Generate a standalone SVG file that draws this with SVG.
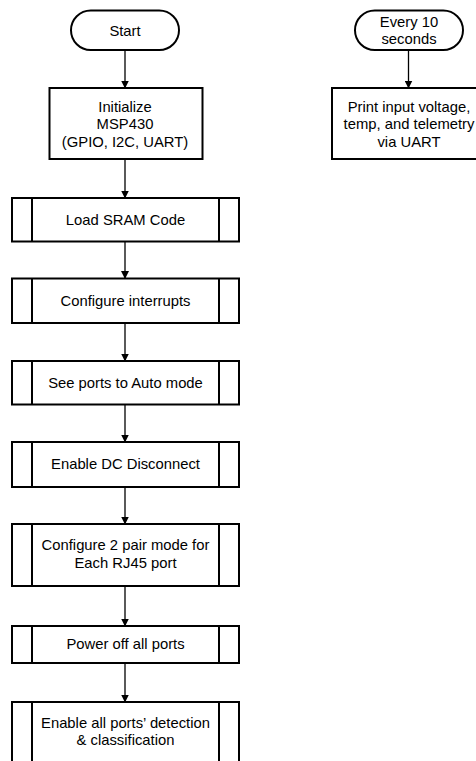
<svg xmlns="http://www.w3.org/2000/svg" width="476" height="761" viewBox="0 0 476 761">
<style>
.shape{fill:#fff;stroke:#000;stroke-width:2}
.div{stroke:#000;stroke-width:2}
.t{font-family:"Liberation Sans",Arial,sans-serif;font-size:14.8px;fill:#000;text-anchor:middle}
.conn{stroke:#000;stroke-width:1.3;fill:none;marker-end:url(#ah)}
</style>
<defs>
<marker id="ah" markerWidth="8" markerHeight="8" refX="7.5" refY="4" orient="auto" markerUnits="userSpaceOnUse">
<path d="M0,0 L8,4 L0,8 z" fill="#000"/>
</marker>
</defs>
<rect width="476" height="761" fill="#fff"/>
<g id="connectors">
<line class="conn" x1="125" y1="50" x2="125" y2="88"/>
<line class="conn" x1="125" y1="159" x2="125" y2="198"/>
<line class="conn" x1="125" y1="241.5" x2="125" y2="278.5"/>
<line class="conn" x1="125" y1="323" x2="125" y2="361"/>
<line class="conn" x1="125" y1="404" x2="125" y2="442"/>
<line class="conn" x1="125" y1="487" x2="125" y2="524"/>
<line class="conn" x1="125" y1="586" x2="125" y2="626"/>
<line class="conn" x1="125" y1="663" x2="125" y2="702"/>
<line class="conn" x1="408.5" y1="50" x2="408.5" y2="88"/>
</g>
<g id="start">
<rect class="shape" x="71" y="10.5" width="108" height="39.5" rx="19.75"/>
<text class="t" x="125" y="35.5">Start</text>
</g>
<g id="init">
<rect class="shape" x="49.5" y="88" width="153" height="71"/>
<text class="t" x="125" y="111.5">Initialize</text>
<text class="t" x="125" y="129">MSP430</text>
<text class="t" x="125" y="146.5">(GPIO, I2C, UART)</text>
</g>
<g id="load-sram">
<rect class="shape" x="12" y="198" width="227" height="43.5"/>
<line class="div" x1="32" y1="198" x2="32" y2="241.5"/>
<line class="div" x1="219" y1="198" x2="219" y2="241.5"/>
<text class="t" x="125.5" y="224.5">Load SRAM Code</text>
</g>
<g id="config-int">
<rect class="shape" x="12" y="278.5" width="227" height="44.5"/>
<line class="div" x1="32" y1="278.5" x2="32" y2="323"/>
<line class="div" x1="219" y1="278.5" x2="219" y2="323"/>
<text class="t" x="125.5" y="305.5">Configure interrupts</text>
</g>
<g id="see-ports">
<rect class="shape" x="12" y="361" width="227" height="43.5"/>
<line class="div" x1="32" y1="361" x2="32" y2="404.5"/>
<line class="div" x1="219" y1="361" x2="219" y2="404.5"/>
<text class="t" x="125.5" y="388">See ports to Auto mode</text>
</g>
<g id="enable-dc">
<rect class="shape" x="12" y="442" width="227" height="45"/>
<line class="div" x1="32" y1="442" x2="32" y2="487"/>
<line class="div" x1="219" y1="442" x2="219" y2="487"/>
<text class="t" x="125.5" y="468.5">Enable DC Disconnect</text>
</g>
<g id="two-pair">
<rect class="shape" x="12" y="524" width="227" height="62"/>
<line class="div" x1="32" y1="524" x2="32" y2="586"/>
<line class="div" x1="219" y1="524" x2="219" y2="586"/>
<text class="t" x="125.5" y="550">Configure 2 pair mode for</text>
<text class="t" x="125.5" y="567.5">Each RJ45 port</text>
</g>
<g id="power-off">
<rect class="shape" x="12" y="626" width="227" height="37"/>
<line class="div" x1="32" y1="626" x2="32" y2="663"/>
<line class="div" x1="219" y1="626" x2="219" y2="663"/>
<text class="t" x="125.5" y="648.5">Power off all ports</text>
</g>
<g id="enable-all">
<rect class="shape" x="12" y="702" width="227" height="70"/>
<line class="div" x1="32" y1="702" x2="32" y2="772"/>
<line class="div" x1="219" y1="702" x2="219" y2="772"/>
<text class="t" x="125.5" y="727.5">Enable all ports’ detection</text>
<text class="t" x="125.5" y="745">&amp; classification</text>
</g>
<g id="every10">
<rect class="shape" x="355" y="10.5" width="108" height="39.5" rx="19.75"/>
<text class="t" x="409" y="27">Every 10</text>
<text class="t" x="409" y="43.5">seconds</text>
</g>
<g id="print">
<rect class="shape" x="332" y="88" width="154" height="71"/>
<text class="t" x="409" y="111.5">Print input voltage,</text>
<text class="t" x="409" y="129">temp, and telemetry</text>
<text class="t" x="409" y="146.5">via UART</text>
</g>
</svg>
